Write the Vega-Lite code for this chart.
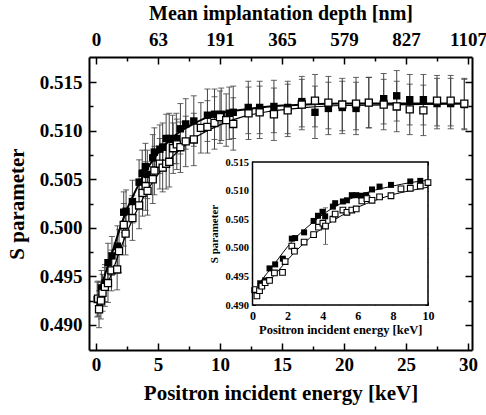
{
  "$schema": "https://vega.github.io/schema/vega-lite/v6.json",
  "width": 383,
  "height": 293,
  "autosize": {"type": "none"},
  "padding": {"left": 89, "top": 57, "right": 14, "bottom": 65},
  "background": "white",
  "config": {
    "font": "Liberation Serif",
    "view": {"stroke": null},
    "axis": {"labelFont": "Liberation Serif", "titleFont": "Liberation Serif", "labelFontWeight": "bold", "titleFontWeight": "bold", "labelColor": "black", "titleColor": "black", "domainColor": "black", "tickColor": "black", "grid": false, "labelFlush": false, "labelOverlap": false}
  },
  "datasets": {
    "pts": [
      {"E": 0.10, "S": 0.4926, "err": 0.0018, "s": "A"},
      {"E": 0.44, "S": 0.4938, "err": 0.0018, "s": "A"},
      {"E": 0.72, "S": 0.4943, "err": 0.0019, "s": "A"},
      {"E": 0.97, "S": 0.4964, "err": 0.0020, "s": "A"},
      {"E": 1.29, "S": 0.4971, "err": 0.0020, "s": "A"},
      {"E": 1.73, "S": 0.4981, "err": 0.0021, "s": "A"},
      {"E": 2.24, "S": 0.5016, "err": 0.0021, "s": "A"},
      {"E": 2.43, "S": 0.5017, "err": 0.0022, "s": "A"},
      {"E": 2.94, "S": 0.5027, "err": 0.0022, "s": "A"},
      {"E": 3.48, "S": 0.5047, "err": 0.0023, "s": "A"},
      {"E": 3.73, "S": 0.5056, "err": 0.0024, "s": "A"},
      {"E": 3.99, "S": 0.5063, "err": 0.0024, "s": "A"},
      {"E": 4.14, "S": 0.5055, "err": 0.0025, "s": "A"},
      {"E": 4.58, "S": 0.5072, "err": 0.0024, "s": "A"},
      {"E": 4.71, "S": 0.5078, "err": 0.0025, "s": "A"},
      {"E": 5.15, "S": 0.5081, "err": 0.0025, "s": "A"},
      {"E": 5.38, "S": 0.5083, "err": 0.0025, "s": "A"},
      {"E": 5.66, "S": 0.5092, "err": 0.0025, "s": "A"},
      {"E": 5.91, "S": 0.5092, "err": 0.0026, "s": "A"},
      {"E": 6.18, "S": 0.5091, "err": 0.0025, "s": "A"},
      {"E": 6.48, "S": 0.5092, "err": 0.0026, "s": "A"},
      {"E": 6.81, "S": 0.5102, "err": 0.0026, "s": "A"},
      {"E": 7.24, "S": 0.5107, "err": 0.0026, "s": "A"},
      {"E": 7.89, "S": 0.5110, "err": 0.0026, "s": "A"},
      {"E": 8.99, "S": 0.5116, "err": 0.0027, "s": "A"},
      {"E": 9.56, "S": 0.5117, "err": 0.0026, "s": "A"},
      {"E": 10.1, "S": 0.5117, "err": 0.0027, "s": "A"},
      {"E": 10.75, "S": 0.5118, "err": 0.0027, "s": "A"},
      {"E": 11.07, "S": 0.5119, "err": 0.0027, "s": "A"},
      {"E": 12.28, "S": 0.5124, "err": 0.0027, "s": "A"},
      {"E": 13.2, "S": 0.5124, "err": 0.0027, "s": "A"},
      {"E": 14.35, "S": 0.5125, "err": 0.0027, "s": "A"},
      {"E": 15.46, "S": 0.5124, "err": 0.0027, "s": "A"},
      {"E": 16.6, "S": 0.5130, "err": 0.0026, "s": "A"},
      {"E": 17.66, "S": 0.5119, "err": 0.0027, "s": "A"},
      {"E": 18.74, "S": 0.5123, "err": 0.0027, "s": "A"},
      {"E": 19.86, "S": 0.5124, "err": 0.0027, "s": "A"},
      {"E": 20.97, "S": 0.5123, "err": 0.0027, "s": "A"},
      {"E": 22.0, "S": 0.5129, "err": 0.0026, "s": "A"},
      {"E": 23.2, "S": 0.5133, "err": 0.0026, "s": "A"},
      {"E": 24.25, "S": 0.5136, "err": 0.0026, "s": "A"},
      {"E": 25.3, "S": 0.5132, "err": 0.0026, "s": "A"},
      {"E": 26.4, "S": 0.5132, "err": 0.0026, "s": "A"},
      {"E": 27.5, "S": 0.5128, "err": 0.0026, "s": "A"},
      {"E": 28.6, "S": 0.5128, "err": 0.0026, "s": "A"},
      {"E": 29.7, "S": 0.5127, "err": 0.0026, "s": "A"},
      {"E": 0.17, "S": 0.4927, "err": 0.0018, "s": "B"},
      {"E": 0.25, "S": 0.4916, "err": 0.0019, "s": "B"},
      {"E": 0.40, "S": 0.4925, "err": 0.0019, "s": "B"},
      {"E": 0.53, "S": 0.4933, "err": 0.0019, "s": "B"},
      {"E": 0.72, "S": 0.4939, "err": 0.0020, "s": "B"},
      {"E": 0.97, "S": 0.4943, "err": 0.0020, "s": "B"},
      {"E": 1.25, "S": 0.4956, "err": 0.0021, "s": "B"},
      {"E": 1.71, "S": 0.4957, "err": 0.0021, "s": "B"},
      {"E": 1.86, "S": 0.4976, "err": 0.0022, "s": "B"},
      {"E": 2.24, "S": 0.5003, "err": 0.0022, "s": "B"},
      {"E": 2.39, "S": 0.4994, "err": 0.0022, "s": "B"},
      {"E": 2.94, "S": 0.5010, "err": 0.0023, "s": "B"},
      {"E": 3.48, "S": 0.5023, "err": 0.0024, "s": "B"},
      {"E": 3.76, "S": 0.5036, "err": 0.0024, "s": "B"},
      {"E": 4.01, "S": 0.5043, "err": 0.0025, "s": "B"},
      {"E": 4.16, "S": 0.5038, "err": 0.0025, "s": "B"},
      {"E": 4.58, "S": 0.5050, "err": 0.0025, "s": "B"},
      {"E": 4.71, "S": 0.5059, "err": 0.0025, "s": "B"},
      {"E": 5.15, "S": 0.5066, "err": 0.0026, "s": "B"},
      {"E": 5.38, "S": 0.5062, "err": 0.0025, "s": "B"},
      {"E": 5.66, "S": 0.5066, "err": 0.0026, "s": "B"},
      {"E": 5.91, "S": 0.5068, "err": 0.0026, "s": "B"},
      {"E": 6.23, "S": 0.5082, "err": 0.0026, "s": "B"},
      {"E": 6.52, "S": 0.5086, "err": 0.0026, "s": "B"},
      {"E": 6.81, "S": 0.5083, "err": 0.0026, "s": "B"},
      {"E": 7.24, "S": 0.5089, "err": 0.0026, "s": "B"},
      {"E": 7.89, "S": 0.5091, "err": 0.0027, "s": "B"},
      {"E": 8.46, "S": 0.5103, "err": 0.0026, "s": "B"},
      {"E": 8.99, "S": 0.5104, "err": 0.0027, "s": "B"},
      {"E": 9.56, "S": 0.5108, "err": 0.0027, "s": "B"},
      {"E": 10.0, "S": 0.5114, "err": 0.0027, "s": "B"},
      {"E": 10.5, "S": 0.5111, "err": 0.0027, "s": "B"},
      {"E": 11.07, "S": 0.5107, "err": 0.0027, "s": "B"},
      {"E": 12.3, "S": 0.5118, "err": 0.0027, "s": "B"},
      {"E": 13.2, "S": 0.5119, "err": 0.0027, "s": "B"},
      {"E": 14.35, "S": 0.5117, "err": 0.0027, "s": "B"},
      {"E": 15.46, "S": 0.5121, "err": 0.0027, "s": "B"},
      {"E": 16.6, "S": 0.5127, "err": 0.0026, "s": "B"},
      {"E": 17.66, "S": 0.5131, "err": 0.0027, "s": "B"},
      {"E": 18.74, "S": 0.5129, "err": 0.0027, "s": "B"},
      {"E": 19.86, "S": 0.5127, "err": 0.0027, "s": "B"},
      {"E": 20.97, "S": 0.5128, "err": 0.0027, "s": "B"},
      {"E": 22.0, "S": 0.5129, "err": 0.0026, "s": "B"},
      {"E": 23.2, "S": 0.5127, "err": 0.0026, "s": "B"},
      {"E": 24.25, "S": 0.5125, "err": 0.0026, "s": "B"},
      {"E": 25.3, "S": 0.5122, "err": 0.0026, "s": "B"},
      {"E": 26.4, "S": 0.5121, "err": 0.0026, "s": "B"},
      {"E": 27.5, "S": 0.5131, "err": 0.0026, "s": "B"},
      {"E": 28.6, "S": 0.5131, "err": 0.0026, "s": "B"},
      {"E": 29.7, "S": 0.5128, "err": 0.0026, "s": "B"}
    ],
    "fit": [
      {"E": 0.1, "S": 0.4920, "s": "A"}, {"E": 0.5, "S": 0.4942, "s": "A"}, {"E": 1, "S": 0.4962, "s": "A"}, {"E": 1.5, "S": 0.4982, "s": "A"},
      {"E": 2, "S": 0.5002, "s": "A"}, {"E": 2.5, "S": 0.5019, "s": "A"}, {"E": 3, "S": 0.5033, "s": "A"}, {"E": 3.5, "S": 0.5046, "s": "A"},
      {"E": 4, "S": 0.5058, "s": "A"}, {"E": 5, "S": 0.5077, "s": "A"}, {"E": 6, "S": 0.5091, "s": "A"}, {"E": 7, "S": 0.5101, "s": "A"},
      {"E": 8, "S": 0.5108, "s": "A"}, {"E": 9, "S": 0.5114, "s": "A"}, {"E": 10, "S": 0.5118, "s": "A"}, {"E": 12, "S": 0.5122, "s": "A"},
      {"E": 14, "S": 0.5125, "s": "A"}, {"E": 17, "S": 0.5127, "s": "A"}, {"E": 20, "S": 0.5128, "s": "A"}, {"E": 25, "S": 0.5128, "s": "A"}, {"E": 30, "S": 0.5128, "s": "A"},
      {"E": 0.1, "S": 0.4920, "s": "B"}, {"E": 0.5, "S": 0.4930, "s": "B"}, {"E": 1, "S": 0.4944, "s": "B"}, {"E": 1.5, "S": 0.4961, "s": "B"},
      {"E": 2, "S": 0.4979, "s": "B"}, {"E": 2.5, "S": 0.4995, "s": "B"}, {"E": 3, "S": 0.5010, "s": "B"}, {"E": 3.5, "S": 0.5023, "s": "B"},
      {"E": 4, "S": 0.5035, "s": "B"}, {"E": 5, "S": 0.5055, "s": "B"}, {"E": 6, "S": 0.5071, "s": "B"}, {"E": 7, "S": 0.5083, "s": "B"},
      {"E": 8, "S": 0.5093, "s": "B"}, {"E": 9, "S": 0.5100, "s": "B"}, {"E": 10, "S": 0.5106, "s": "B"}, {"E": 12, "S": 0.5115, "s": "B"},
      {"E": 14, "S": 0.5120, "s": "B"}, {"E": 17, "S": 0.5124, "s": "B"}, {"E": 20, "S": 0.5126, "s": "B"}, {"E": 25, "S": 0.5127, "s": "B"}, {"E": 30, "S": 0.5128, "s": "B"}
    ],
    "frame": [{"x0": 0, "x1": 10, "y0": 0.490, "y1": 0.515}],
    "ierr": [{"E": 4.16, "S": 0.5038, "err": 0.0032}]
  },
  "layer": [
    {
      "resolve": {"axis": {"x": "independent", "y": "independent"}},
      "layer": [
        {
          "data": {"name": "pts"},
          "mark": {"type": "errorbar", "ticks": {"size": 6, "color": "#222"}, "rule": {"color": "#444", "strokeWidth": 1}},
          "encoding": {
            "x": {"field": "E", "type": "quantitative", "scale": {"domain": [-0.56, 30.32], "nice": false, "zero": false}, "axis": null},
            "y": {"field": "S", "type": "quantitative", "scale": {"domain": [0.4874, 0.5176], "nice": false, "zero": false}, "axis": null},
            "yError": {"field": "err"}
          }
        },
        {
          "data": {"name": "fit"},
          "transform": [{"filter": "datum.s == 'A'"}],
          "mark": {"type": "line", "color": "black", "strokeWidth": 2, "interpolate": "monotone"},
          "encoding": {
            "x": {"field": "E", "type": "quantitative", "scale": {"domain": [-0.56, 30.32], "nice": false, "zero": false},
              "axis": {"orient": "bottom", "values": [0, 5, 10, 15, 20, 25, 30], "tickSize": -7, "tickWidth": 1.5, "labelPadding": 12, "labelFontSize": 19, "title": "Positron incident energy [keV]", "titleFontSize": 21, "titlePadding": 8, "domainWidth": 2}},
            "y": {"field": "S", "type": "quantitative", "scale": {"domain": [0.4874, 0.5176], "nice": false, "zero": false},
              "axis": {"orient": "left", "values": [0.49, 0.495, 0.5, 0.505, 0.51, 0.515], "format": ".3f", "tickSize": -7, "tickWidth": 1.5, "labelPadding": 14, "labelFontSize": 19, "title": "S parameter", "titleFontSize": 21, "titlePadding": 12, "domainWidth": 2}}
          }
        },
        {
          "data": {"name": "fit"},
          "transform": [{"filter": "datum.s == 'B'"}],
          "mark": {"type": "line", "color": "black", "strokeWidth": 1.2, "interpolate": "monotone"},
          "encoding": {
            "x": {"field": "E", "type": "quantitative", "scale": {"domain": [-0.56, 30.32], "nice": false, "zero": false},
              "axis": {"orient": "top", "values": [0, 5, 10, 15, 20, 25, 30], "labelExpr": "datum.value == 0 ? '0' : datum.value == 5 ? '63' : datum.value == 10 ? '191' : datum.value == 15 ? '365' : datum.value == 20 ? '579' : datum.value == 25 ? '827' : '1107'", "tickSize": -7, "tickWidth": 1.5, "labelPadding": 15, "labelFontSize": 19, "title": "Mean implantation depth [nm]", "titleFontSize": 20, "titlePadding": 7, "domainWidth": 2}},
            "y": {"field": "S", "type": "quantitative", "scale": {"domain": [0.4874, 0.5176], "nice": false, "zero": false},
              "axis": {"orient": "right", "values": [0.49, 0.495, 0.5, 0.505, 0.51, 0.515], "labels": false, "tickSize": -7, "tickWidth": 1.5, "title": null, "domainWidth": 2}}
          }
        },
        {
          "data": {"name": "pts"},
          "transform": [{"filter": "datum.s == 'A'"}],
          "mark": {"type": "point", "shape": "square", "filled": true, "color": "black", "size": 55, "opacity": 1},
          "encoding": {
            "x": {"field": "E", "type": "quantitative", "scale": {"domain": [-0.56, 30.32], "nice": false, "zero": false},
              "axis": {"orient": "bottom", "values": [2.5, 7.5, 12.5, 17.5, 22.5, 27.5], "labels": false, "tickSize": -4, "tickWidth": 1.5, "domain": false, "title": null}},
            "y": {"field": "S", "type": "quantitative", "scale": {"domain": [0.4874, 0.5176], "nice": false, "zero": false},
              "axis": {"orient": "left", "values": [0.4925, 0.4975, 0.5025, 0.5075, 0.5125], "labels": false, "tickSize": -4, "tickWidth": 1.5, "domain": false, "title": null}}
          }
        },
        {
          "data": {"name": "pts"},
          "transform": [{"filter": "datum.s == 'B'"}],
          "mark": {"type": "point", "shape": "square", "filled": true, "fill": "white", "stroke": "black", "strokeWidth": 1.3, "size": 50, "opacity": 1},
          "encoding": {
            "x": {"field": "E", "type": "quantitative", "scale": {"domain": [-0.56, 30.32], "nice": false, "zero": false},
              "axis": {"orient": "top", "values": [2.5, 7.5, 12.5, 17.5, 22.5, 27.5], "labels": false, "tickSize": -4, "tickWidth": 1.5, "domain": false, "title": null}},
            "y": {"field": "S", "type": "quantitative", "scale": {"domain": [0.4874, 0.5176], "nice": false, "zero": false},
              "axis": {"orient": "right", "values": [0.4925, 0.4975, 0.5025, 0.5075, 0.5125], "labels": false, "tickSize": -4, "tickWidth": 1.5, "domain": false, "title": null}}
          }
        }
      ]
    },
    {
      "resolve": {"axis": {"x": "independent", "y": "independent"}},
      "layer": [
        {
          "data": {"name": "frame"},
          "mark": {"type": "rect", "fill": "white", "stroke": "black", "strokeWidth": 1.5},
          "encoding": {
            "x": {"field": "x0", "type": "quantitative", "scale": {"domain": [0, 10], "range": [163.5, 339], "nice": false, "zero": false},
              "axis": {"orient": "bottom", "offset": -45, "values": [0, 1, 2, 3, 4, 5, 6, 7, 8, 9, 10], "labelExpr": "datum.value % 2 == 0 ? datum.label : ''", "tickSize": -3, "labelPadding": 8, "labelFontSize": 12, "domain": false, "title": "Positron incident energy [keV]", "titleFontSize": 12.5, "titlePadding": 2}},
            "x2": {"field": "x1"},
            "y": {"field": "y0", "type": "quantitative", "scale": {"domain": [0.49, 0.515], "range": [248, 105], "nice": false, "zero": false},
              "axis": {"orient": "left", "offset": -163.5, "values": [0.49, 0.4925, 0.495, 0.4975, 0.5, 0.5025, 0.505, 0.5075, 0.51, 0.5125, 0.515], "format": ".3f", "labelExpr": "round(datum.value * 10000) % 50 == 0 ? datum.label : ''", "tickSize": -3, "labelPadding": 7, "labelFontSize": 10.5, "domain": false, "title": "S parameter", "titleFontSize": 11, "titlePadding": 5}},
            "y2": {"field": "y1"}
          }
        },
        {
          "data": {"name": "fit"},
          "transform": [{"filter": "datum.E <= 10"}],
          "mark": {"type": "line", "color": "black", "strokeWidth": 1, "interpolate": "monotone"},
          "encoding": {
            "detail": {"field": "s"},
            "x": {"field": "E", "type": "quantitative", "scale": {"domain": [0, 10], "range": [163.5, 339], "nice": false, "zero": false},
              "axis": {"orient": "top", "offset": -105, "values": [0, 1, 2, 3, 4, 5, 6, 7, 8, 9, 10], "labels": false, "tickSize": -3, "domain": false, "title": null}},
            "y": {"field": "S", "type": "quantitative", "scale": {"domain": [0.49, 0.515], "range": [248, 105], "nice": false, "zero": false},
              "axis": {"orient": "right", "offset": -44, "values": [0.49, 0.4925, 0.495, 0.4975, 0.5, 0.5025, 0.505, 0.5075, 0.51, 0.5125, 0.515], "labels": false, "tickSize": -3, "domain": false, "title": null}}
          }
        },
        {
          "data": {"name": "ierr"},
          "mark": {"type": "errorbar", "ticks": {"size": 5, "color": "#444"}, "rule": {"color": "#555", "strokeWidth": 1}},
          "encoding": {
            "x": {"field": "E", "type": "quantitative", "scale": {"domain": [0, 10], "range": [163.5, 339], "nice": false, "zero": false}, "axis": null},
            "y": {"field": "S", "type": "quantitative", "scale": {"domain": [0.49, 0.515], "range": [248, 105], "nice": false, "zero": false}, "axis": null},
            "yError": {"field": "err"}
          }
        },
        {
          "data": {"name": "pts"},
          "transform": [{"filter": "datum.s == 'A' && datum.E <= 10"}],
          "mark": {"type": "point", "shape": "square", "filled": true, "color": "black", "size": 36, "opacity": 1},
          "encoding": {
            "x": {"field": "E", "type": "quantitative", "scale": {"domain": [0, 10], "range": [163.5, 339], "nice": false, "zero": false}, "axis": null},
            "y": {"field": "S", "type": "quantitative", "scale": {"domain": [0.49, 0.515], "range": [248, 105], "nice": false, "zero": false}, "axis": null}
          }
        },
        {
          "data": {"name": "pts"},
          "transform": [{"filter": "datum.s == 'B' && datum.E <= 10"}],
          "mark": {"type": "point", "shape": "square", "filled": true, "fill": "white", "stroke": "black", "strokeWidth": 1.1, "size": 32, "opacity": 1},
          "encoding": {
            "x": {"field": "E", "type": "quantitative", "scale": {"domain": [0, 10], "range": [163.5, 339], "nice": false, "zero": false}, "axis": null},
            "y": {"field": "S", "type": "quantitative", "scale": {"domain": [0.49, 0.515], "range": [248, 105], "nice": false, "zero": false}, "axis": null}
          }
        }
      ]
    }
  ],
  "resolve": {"scale": {"x": "independent", "y": "independent"}, "axis": {"x": "independent", "y": "independent"}}
}
